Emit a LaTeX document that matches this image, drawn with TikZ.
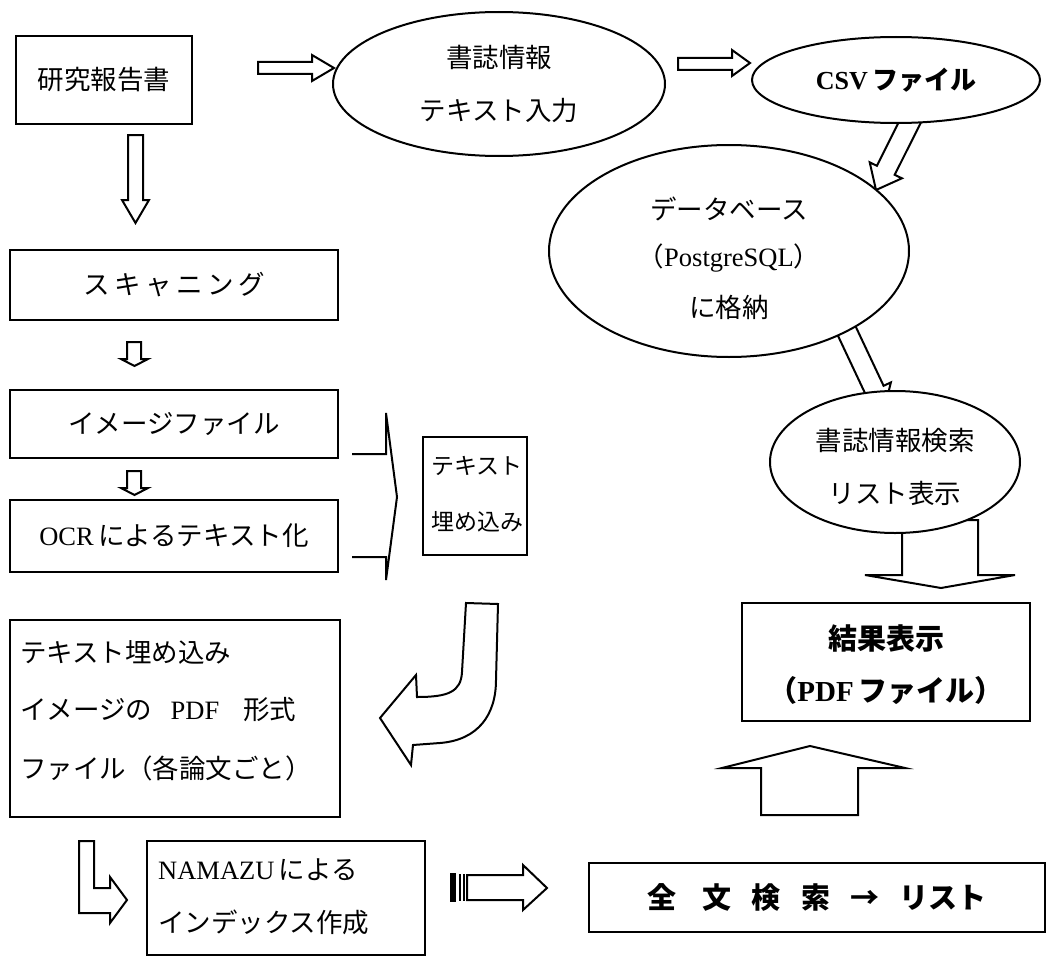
\documentclass[tikz,border=0pt]{standalone}
\usepackage{fontspec}
\setmainfont{Liberation Serif}
\newfontfamily\jp{Noto Sans CJK JP}
\newcommand\J[1]{{\jp #1}}
\usetikzlibrary{shapes.geometric}
\begin{document}
\begin{tikzpicture}[x=1pt,y=-1pt,
  box/.style={draw, line width=2.2pt, rectangle, inner sep=0pt},
  oval/.style={draw, line width=2pt, ellipse, inner sep=0pt, fill=white},
  blk/.style={draw, line width=2pt, line join=miter, fill=white},
  txt/.style={font=\fontsize{26.5}{31}\selectfont, inner sep=0pt},
  btxt/.style={font=\fontsize{29}{34}\selectfont\bfseries, inner sep=0pt}
]
\path[use as bounding box, fill=white] (0,0) rectangle (1061,958);

% ---------- block arrows drawn below ellipses ----------
% CSV -> DB
\path[blk] (920.9,122.5) -- (894.7,174.8) -- (901.9,178.3) -- (876,190) -- (869.7,162.3) -- (876.9,165.8) -- (903.1,113.5) -- cycle;
% DB -> search
\path[blk] (852.5,319.8) -- (883.6,385.8) -- (890.9,382.4) -- (884,410) -- (858.3,397.8) -- (865.6,394.4) -- (834.5,328.4) -- cycle;
% search -> result (wide down)
\path[blk] (902,520) -- (902,575) -- (865,575) -- (941,588) -- (1015,575) -- (978,575) -- (978,520) -- cycle;

% ---------- boxes ----------
\node[box, minimum width=176pt, minimum height=88pt] (rep) at (104,80) {};
\node[txt] (trep) at (rep.center) {\J{研究報告書}};

\node[box, minimum width=328pt, minimum height=70pt] (scan) at (174,285) {};
\node[txt] (tscan) at (scan.center) {\J{ス\,キ\,ャ\,ニ\,ン\,グ}};

\node[box, minimum width=328pt, minimum height=68pt] (img) at (174,424) {};
\node[txt] (timg) at (img.center) {\J{イメージファイル}};

\node[box, minimum width=328pt, minimum height=72pt] (ocr) at (174,536) {};
\node[txt] (tocr) at (ocr.center) {OCR\,\J{によるテキスト化}};

\node[box, minimum width=104pt, minimum height=118pt] (emb) at (475,496) {};
\node[txt, anchor=west, font=\fontsize{23}{28}\selectfont] (temb1) at (431,466) {\J{テキスト}};
\node[txt, anchor=west, font=\fontsize{23}{28}\selectfont] (temb2) at (431,522) {\J{埋め込み}};

\node[box, minimum width=330pt, minimum height=197pt] (pdf) at (175,718.5) {};
\node[txt, anchor=west] (tpdf1) at (20,652) {\J{テキスト埋め込み}};
\node[txt, anchor=west] (tpdf2) at (20,710) {\J{イメージの}\hspace{0.7em}PDF\hspace{0.9em}\J{形式}};
\node[txt, anchor=west] (tpdf3) at (20,768) {\J{ファイル（各論文ごと）}};

\node[box, minimum width=278pt, minimum height=114pt] (nmz) at (286,898) {};
\node[txt, anchor=west] (tnmz1) at (158,870) {NAMAZU\,\J{による}};
\node[txt, anchor=west] (tnmz2) at (158,922) {\J{インデックス作成}};

\node[box, minimum width=288pt, minimum height=118pt] (res) at (886,662) {};
\node[btxt] (tres1) at (886,638) {\J{結果表示}};
\node[btxt] (tres2) at (886,691) {\J{（}PDF\,\J{ファイル）}};

\node[box, minimum width=456pt, minimum height=69pt] (full) at (817,897.5) {};
\node[btxt] (tfull) at (full.center) {\J{全\hspace{0.9em}文\hspace{0.7em}検\hspace{0.7em}索\hspace{0.7em}→\hspace{0.7em}リスト}};

% ---------- ellipses ----------
\node[oval, minimum width=332pt, minimum height=144pt] (e1) at (499,84) {};
\node[txt] (te1a) at (499,57) {\J{書誌情報}};
\node[txt] (te1b) at (499,111) {\J{テキスト入力}};

\node[oval, minimum width=288pt, minimum height=86pt] (csv) at (896,80) {};
\node[btxt, font=\fontsize{26}{30}\selectfont\bfseries] (tcsv) at (csv.center) {CSV\,\J{ファイル}};

\node[oval, minimum width=360pt, minimum height=212pt] (db) at (729,251) {};
\node[txt] (tdb1) at (729,209) {\J{データベース}};
\node[txt] (tdb2) at (729,258) {\J{（}PostgreSQL\J{）}};
\node[txt] (tdb3) at (729,307) {\J{に格納}};

\node[oval, minimum width=250pt, minimum height=142pt] (srch) at (895,462) {};
\node[txt] (ts1) at (895,440) {\J{書誌情報検索}};
\node[txt] (ts2) at (895,493) {\J{リスト表示}};

% ---------- other block arrows ----------
% report -> e1
\path[blk] (258,62) -- (312,62) -- (312,55) -- (334,68) -- (312,81) -- (312,74) -- (258,74) -- cycle;
% e1 -> csv
\path[blk] (678,58) -- (732,58) -- (732,50) -- (750,63) -- (732,76) -- (732,70) -- (678,70) -- cycle;
% report -> scan
\path[blk] (128,135) -- (143,135) -- (143,200) -- (149,200) -- (135.5,223) -- (122,200) -- (128,200) -- cycle;
% scan -> img
\path[blk] (127,342) -- (141,342) -- (141,359) -- (148,359) -- (134.5,366) -- (121,359) -- (127,359) -- cycle;
% img -> ocr
\path[blk] (127,471) -- (141,471) -- (141,488) -- (148,488) -- (134.5,495) -- (121,488) -- (127,488) -- cycle;
% left column -> embed (chevron)
\draw[line width=2pt, line join=miter] (352,454) -- (386,454) -- (386,413) -- (397,497) -- (386,580) -- (386,557) -- (352,557);
% embed -> pdf (curved)
\path[blk] (498,604) -- (466,603) -- (462,672) .. controls (461,692) and (448,697) .. (417,697)
  -- (416,675) -- (380,718) -- (411,765) -- (413,745) -- (440,743)
  .. controls (478,740) and (496,715) .. (496,680) -- cycle;
% pdf -> namazu (bent)
\path[blk] (79,841) -- (94,841) -- (94,888) -- (110,888) -- (110,877) -- (127,900) -- (110,923) -- (110,913) -- (79,913) -- cycle;
% namazu -> full text (striped tail)
\path[blk] (467,875) -- (523,875) -- (523,865) -- (547,888) -- (523,910) -- (523,900) -- (467,900) -- cycle;
\fill (450,873) rectangle (456,902);
\draw[line width=2pt] (460,874) -- (460,901) (464,874) -- (464,901);
% full text -> result (up)
\path[blk] (761,815) -- (761,768) -- (722,768) -- (810,746) -- (905,768) -- (858,768) -- (858,815) -- cycle;
\end{tikzpicture}
\end{document}
